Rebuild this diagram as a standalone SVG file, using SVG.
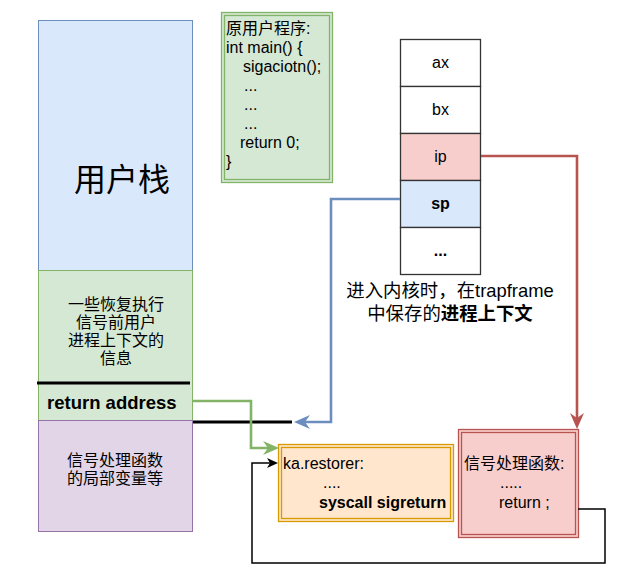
<svg xmlns="http://www.w3.org/2000/svg" width="623" height="574" viewBox="0 0 623 574">
<style>
text{font-family:"Liberation Sans","Noto Sans CJK SC",sans-serif;font-size:16px;fill:#000}
.c{text-anchor:middle}
.b{font-weight:bold}
.cell{stroke:#333;stroke-width:1.3}
.conn{fill:none;stroke-width:2.6}
</style>
<defs>
<marker id="ag" markerUnits="userSpaceOnUse" markerWidth="16" markerHeight="14" refX="5" refY="7" orient="auto"><path d="M0,0 L16,7 L0,14 L5,7 Z" fill="#82b366"/></marker>
<marker id="ab" markerUnits="userSpaceOnUse" markerWidth="16" markerHeight="14" refX="5" refY="7" orient="auto"><path d="M0,0 L16,7 L0,14 L5,7 Z" fill="#6c8ebf"/></marker>
<marker id="ar" markerUnits="userSpaceOnUse" markerWidth="16" markerHeight="14" refX="5" refY="7" orient="auto"><path d="M0,0 L16,7 L0,14 L5,7 Z" fill="#b85450"/></marker>
<marker id="ak" markerUnits="userSpaceOnUse" markerWidth="11" markerHeight="10" refX="3" refY="5" orient="auto"><path d="M0,0 L11,5 L0,10 L3,5 Z" fill="#000"/></marker>
</defs>

<g id="user-stack">
<rect x="38.5" y="20.5" width="154" height="250" fill="#dae8fc" stroke="#6c8ebf"/>
<text x="122" y="191" class="c" style="font-size:32px">用户栈</text>
</g>
<g id="saved-context">
<rect x="38.5" y="270.5" width="154" height="150" fill="#d5e8d4" stroke="#82b366"/>
<text x="116" y="310" class="c">一些恢复执行</text>
<text x="116" y="328" class="c">信号前用户</text>
<text x="116" y="346" class="c">进程上下文的</text>
<text x="116" y="364" class="c">信息</text>
<line x1="37" y1="383" x2="190" y2="383" stroke="#000" stroke-width="3"/>
<text x="47" y="409" class="b" style="font-size:18.5px">return address</text>
</g>
<g id="local-vars">
<rect x="38.5" y="420.5" width="154" height="111" fill="#e1d5e7" stroke="#9673a6"/>
<text x="115" y="466" class="c">信号处理函数</text>
<text x="115" y="484" class="c">的局部变量等</text>
</g>

<g id="user-program">
<rect x="221.5" y="12.5" width="111" height="170" fill="#d5e8d4" stroke="#82b366" stroke-width="1.3"/>
<rect x="224.5" y="15.5" width="105" height="164" fill="none" stroke="#82b366" stroke-width="1.3"/>
<text x="226" y="34">原用户程序:</text>
<text x="226" y="53">int main() {</text>
<text x="243" y="72">sigaciotn();</text>
<text x="244" y="91">...</text>
<text x="244" y="110">...</text>
<text x="244" y="129">...</text>
<text x="240" y="148">return 0;</text>
<text x="226" y="167">}</text>
</g>

<g id="trapframe">
<rect class="cell" x="400.5" y="39.5" width="80" height="47" fill="#fff"/>
<rect class="cell" x="400.5" y="86.5" width="80" height="47" fill="#fff"/>
<rect class="cell" x="400.5" y="133.5" width="80" height="47" fill="#f8cecc"/>
<rect class="cell" x="400.5" y="180.5" width="80" height="47" fill="#dae8fc"/>
<rect class="cell" x="400.5" y="227.5" width="80" height="47" fill="#fff"/>
<text x="440.5" y="68" class="c">ax</text>
<text x="440.5" y="115" class="c">bx</text>
<text x="440.5" y="162" class="c">ip</text>
<text x="440.5" y="209" class="c b">sp</text>
<text x="440.5" y="256" class="c b">...</text>
</g>
<g id="trapframe-label">
<text x="450" y="297" class="c" style="font-size:18.4px">进入内核时，在trapframe</text>
<text x="450" y="320" class="c" style="font-size:18.4px">中保存的<tspan class="b">进程上下文</tspan></text>
</g>

<g id="restorer">
<rect x="278.5" y="444.5" width="175" height="77" fill="#ffe6cc" stroke="#d79b00" stroke-width="1.3"/>
<rect x="281.5" y="447.5" width="169" height="71" fill="none" stroke="#d79b00" stroke-width="1.3"/>
<text x="283" y="469">ka.restorer:</text>
<text x="323" y="488">....</text>
<text x="319" y="508" class="b">syscall sigreturn</text>
</g>

<g id="handler">
<rect x="458.5" y="429.5" width="120" height="108" fill="#f8cecc" stroke="#b85450" stroke-width="1.3"/>
<rect x="461.5" y="432.5" width="114" height="102" fill="none" stroke="#b85450" stroke-width="1.3"/>
<text x="464" y="469">信号处理函数:</text>
<text x="500" y="488">.....</text>
<text x="499" y="508">return ;</text>
</g>

<g id="connectors">
<line x1="193" y1="422" x2="292" y2="422" stroke="#000" stroke-width="3"/>
<path class="conn" stroke="#82b366" d="M193,401 H251 V448 H268" marker-end="url(#ag)"/>
<path class="conn" stroke="#6c8ebf" d="M400,199 H331 V422 H305" marker-end="url(#ab)"/>
<path class="conn" stroke="#b85450" d="M481,156 H577 V418" marker-end="url(#ar)"/>
<path fill="none" stroke="#000" stroke-width="1.5" d="M578,509 H605 V563 H252 V463 H270" marker-end="url(#ak)"/>
</g>
</svg>
